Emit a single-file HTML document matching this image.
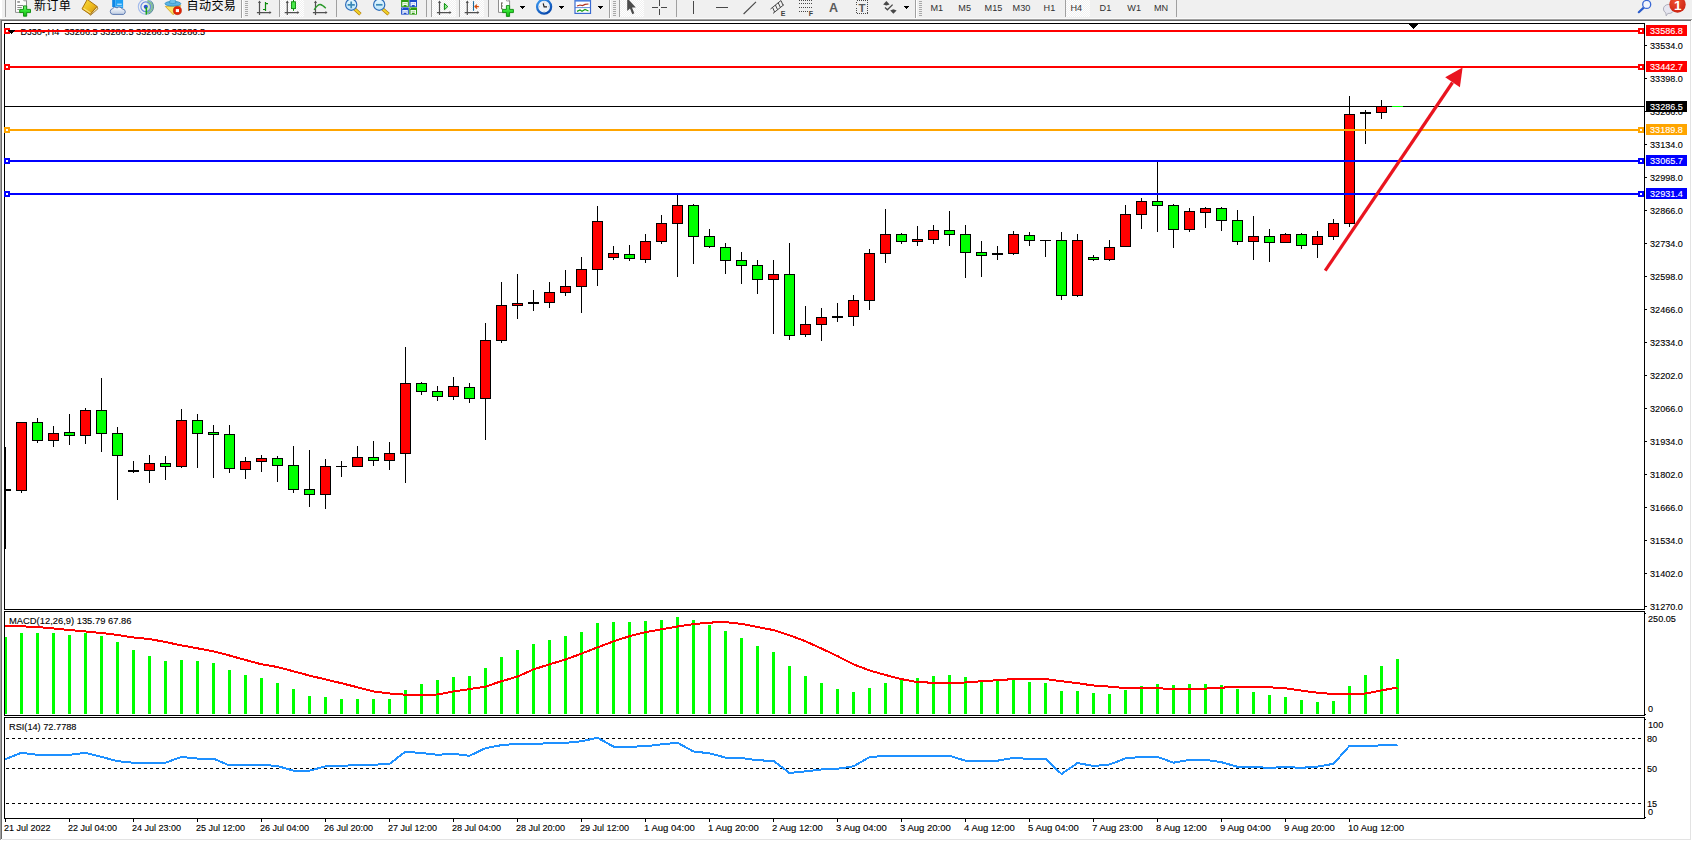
<!DOCTYPE html>
<html lang="zh-CN">
<head>
<meta charset="utf-8">
<title>DJ30-,H4</title>
<style>
html,body{margin:0;padding:0;background:#fff;}
body{width:1692px;height:841px;overflow:hidden;position:relative;font-family:"Liberation Sans", "Noto Sans CJK SC", sans-serif;}
svg{position:absolute;left:0;top:0;display:block;}
svg text{font-family:"Liberation Sans", "Noto Sans CJK SC", sans-serif;stroke-width:0.12px;}
svg text.k{stroke:#000;}
</style>
</head>
<body>
<svg width="1692" height="841" viewBox="0 0 1692 841">
<g shape-rendering="crispEdges">
<rect x="0" y="18" width="1692" height="823" fill="#fff"/>
<rect x="0" y="18" width="1692" height="1" fill="#fafafa"/>
<rect x="0" y="19" width="1692" height="1" fill="#a0a0a0"/>
<rect x="0" y="20" width="1691" height="1" fill="#696969"/>
<rect x="0" y="19" width="1" height="821" fill="#a0a0a0"/>
<rect x="1" y="20" width="1" height="819" fill="#696969"/>
<rect x="1690" y="21" width="1" height="819" fill="#e3e3e3"/>
<rect x="2" y="839" width="1689" height="1" fill="#e3e3e3"/>
<rect x="5" y="447" width="1" height="102" fill="#000"/>
<rect x="5" y="489" width="6" height="2" fill="#000"/>
<rect x="21" y="422" width="1" height="71" fill="#000"/>
<rect x="16" y="422" width="11" height="69" fill="#000"/>
<rect x="17" y="423" width="9" height="67" fill="#ff0000"/>
<rect x="37" y="418" width="1" height="25" fill="#000"/>
<rect x="32" y="422" width="11" height="19" fill="#000"/>
<rect x="33" y="423" width="9" height="17" fill="#00ff00"/>
<rect x="53" y="426" width="1" height="21" fill="#000"/>
<rect x="48" y="433" width="11" height="8" fill="#000"/>
<rect x="49" y="434" width="9" height="6" fill="#ff0000"/>
<rect x="69" y="414" width="1" height="31" fill="#000"/>
<rect x="64" y="432" width="11" height="4" fill="#000"/>
<rect x="65" y="433" width="9" height="2" fill="#00ff00"/>
<rect x="85" y="408" width="1" height="36" fill="#000"/>
<rect x="80" y="410" width="11" height="26" fill="#000"/>
<rect x="81" y="411" width="9" height="24" fill="#ff0000"/>
<rect x="101" y="378" width="1" height="74" fill="#000"/>
<rect x="96" y="410" width="11" height="24" fill="#000"/>
<rect x="97" y="411" width="9" height="22" fill="#00ff00"/>
<rect x="117" y="427" width="1" height="73" fill="#000"/>
<rect x="112" y="433" width="11" height="23" fill="#000"/>
<rect x="113" y="434" width="9" height="21" fill="#00ff00"/>
<rect x="133" y="461" width="1" height="12" fill="#000"/>
<rect x="128" y="470" width="11" height="2" fill="#000"/>
<rect x="149" y="455" width="1" height="28" fill="#000"/>
<rect x="144" y="463" width="11" height="8" fill="#000"/>
<rect x="145" y="464" width="9" height="6" fill="#ff0000"/>
<rect x="165" y="456" width="1" height="24" fill="#000"/>
<rect x="160" y="463" width="11" height="4" fill="#000"/>
<rect x="161" y="464" width="9" height="2" fill="#00ff00"/>
<rect x="181" y="409" width="1" height="59" fill="#000"/>
<rect x="176" y="420" width="11" height="47" fill="#000"/>
<rect x="177" y="421" width="9" height="45" fill="#ff0000"/>
<rect x="197" y="414" width="1" height="54" fill="#000"/>
<rect x="192" y="420" width="11" height="14" fill="#000"/>
<rect x="193" y="421" width="9" height="12" fill="#00ff00"/>
<rect x="213" y="425" width="1" height="53" fill="#000"/>
<rect x="208" y="432" width="11" height="3" fill="#000"/>
<rect x="209" y="433" width="9" height="1" fill="#00ff00"/>
<rect x="229" y="425" width="1" height="48" fill="#000"/>
<rect x="224" y="434" width="11" height="35" fill="#000"/>
<rect x="225" y="435" width="9" height="33" fill="#00ff00"/>
<rect x="245" y="457" width="1" height="22" fill="#000"/>
<rect x="240" y="461" width="11" height="9" fill="#000"/>
<rect x="241" y="462" width="9" height="7" fill="#ff0000"/>
<rect x="261" y="455" width="1" height="17" fill="#000"/>
<rect x="256" y="458" width="11" height="4" fill="#000"/>
<rect x="257" y="459" width="9" height="2" fill="#ff0000"/>
<rect x="277" y="456" width="1" height="26" fill="#000"/>
<rect x="272" y="458" width="11" height="8" fill="#000"/>
<rect x="273" y="459" width="9" height="6" fill="#00ff00"/>
<rect x="293" y="446" width="1" height="47" fill="#000"/>
<rect x="288" y="465" width="11" height="25" fill="#000"/>
<rect x="289" y="466" width="9" height="23" fill="#00ff00"/>
<rect x="309" y="450" width="1" height="57" fill="#000"/>
<rect x="304" y="489" width="11" height="6" fill="#000"/>
<rect x="305" y="490" width="9" height="4" fill="#00ff00"/>
<rect x="325" y="459" width="1" height="50" fill="#000"/>
<rect x="320" y="466" width="11" height="29" fill="#000"/>
<rect x="321" y="467" width="9" height="27" fill="#ff0000"/>
<rect x="341" y="461" width="1" height="16" fill="#000"/>
<rect x="336" y="466" width="11" height="1" fill="#000"/>
<rect x="357" y="446" width="1" height="21" fill="#000"/>
<rect x="352" y="457" width="11" height="10" fill="#000"/>
<rect x="353" y="458" width="9" height="8" fill="#ff0000"/>
<rect x="373" y="441" width="1" height="25" fill="#000"/>
<rect x="368" y="457" width="11" height="4" fill="#000"/>
<rect x="369" y="458" width="9" height="2" fill="#00ff00"/>
<rect x="389" y="442" width="1" height="28" fill="#000"/>
<rect x="384" y="453" width="11" height="8" fill="#000"/>
<rect x="385" y="454" width="9" height="6" fill="#ff0000"/>
<rect x="405" y="347" width="1" height="136" fill="#000"/>
<rect x="400" y="383" width="11" height="71" fill="#000"/>
<rect x="401" y="384" width="9" height="69" fill="#ff0000"/>
<rect x="421" y="382" width="1" height="13" fill="#000"/>
<rect x="416" y="383" width="11" height="9" fill="#000"/>
<rect x="417" y="384" width="9" height="7" fill="#00ff00"/>
<rect x="437" y="386" width="1" height="15" fill="#000"/>
<rect x="432" y="391" width="11" height="6" fill="#000"/>
<rect x="433" y="392" width="9" height="4" fill="#00ff00"/>
<rect x="453" y="377" width="1" height="23" fill="#000"/>
<rect x="448" y="386" width="11" height="11" fill="#000"/>
<rect x="449" y="387" width="9" height="9" fill="#ff0000"/>
<rect x="469" y="383" width="1" height="20" fill="#000"/>
<rect x="464" y="387" width="11" height="12" fill="#000"/>
<rect x="465" y="388" width="9" height="10" fill="#00ff00"/>
<rect x="485" y="323" width="1" height="117" fill="#000"/>
<rect x="480" y="340" width="11" height="59" fill="#000"/>
<rect x="481" y="341" width="9" height="57" fill="#ff0000"/>
<rect x="501" y="282" width="1" height="61" fill="#000"/>
<rect x="496" y="305" width="11" height="36" fill="#000"/>
<rect x="497" y="306" width="9" height="34" fill="#ff0000"/>
<rect x="517" y="274" width="1" height="45" fill="#000"/>
<rect x="512" y="303" width="11" height="3" fill="#000"/>
<rect x="513" y="304" width="9" height="1" fill="#ff0000"/>
<rect x="533" y="290" width="1" height="21" fill="#000"/>
<rect x="528" y="302" width="11" height="2" fill="#000"/>
<rect x="549" y="282" width="1" height="26" fill="#000"/>
<rect x="544" y="292" width="11" height="11" fill="#000"/>
<rect x="545" y="293" width="9" height="9" fill="#ff0000"/>
<rect x="565" y="270" width="1" height="26" fill="#000"/>
<rect x="560" y="286" width="11" height="7" fill="#000"/>
<rect x="561" y="287" width="9" height="5" fill="#ff0000"/>
<rect x="581" y="257" width="1" height="56" fill="#000"/>
<rect x="576" y="269" width="11" height="18" fill="#000"/>
<rect x="577" y="270" width="9" height="16" fill="#ff0000"/>
<rect x="597" y="206" width="1" height="80" fill="#000"/>
<rect x="592" y="221" width="11" height="49" fill="#000"/>
<rect x="593" y="222" width="9" height="47" fill="#ff0000"/>
<rect x="613" y="246" width="1" height="14" fill="#000"/>
<rect x="608" y="253" width="11" height="5" fill="#000"/>
<rect x="609" y="254" width="9" height="3" fill="#ff0000"/>
<rect x="629" y="245" width="1" height="16" fill="#000"/>
<rect x="624" y="254" width="11" height="5" fill="#000"/>
<rect x="625" y="255" width="9" height="3" fill="#00ff00"/>
<rect x="645" y="234" width="1" height="29" fill="#000"/>
<rect x="640" y="241" width="11" height="19" fill="#000"/>
<rect x="641" y="242" width="9" height="17" fill="#ff0000"/>
<rect x="661" y="215" width="1" height="29" fill="#000"/>
<rect x="656" y="223" width="11" height="19" fill="#000"/>
<rect x="657" y="224" width="9" height="17" fill="#ff0000"/>
<rect x="677" y="195" width="1" height="82" fill="#000"/>
<rect x="672" y="205" width="11" height="19" fill="#000"/>
<rect x="673" y="206" width="9" height="17" fill="#ff0000"/>
<rect x="693" y="204" width="1" height="60" fill="#000"/>
<rect x="688" y="205" width="11" height="32" fill="#000"/>
<rect x="689" y="206" width="9" height="30" fill="#00ff00"/>
<rect x="709" y="229" width="1" height="19" fill="#000"/>
<rect x="704" y="236" width="11" height="11" fill="#000"/>
<rect x="705" y="237" width="9" height="9" fill="#00ff00"/>
<rect x="725" y="243" width="1" height="31" fill="#000"/>
<rect x="720" y="247" width="11" height="14" fill="#000"/>
<rect x="721" y="248" width="9" height="12" fill="#00ff00"/>
<rect x="741" y="252" width="1" height="32" fill="#000"/>
<rect x="736" y="260" width="11" height="6" fill="#000"/>
<rect x="737" y="261" width="9" height="4" fill="#00ff00"/>
<rect x="757" y="260" width="1" height="34" fill="#000"/>
<rect x="752" y="265" width="11" height="15" fill="#000"/>
<rect x="753" y="266" width="9" height="13" fill="#00ff00"/>
<rect x="773" y="260" width="1" height="74" fill="#000"/>
<rect x="768" y="274" width="11" height="6" fill="#000"/>
<rect x="769" y="275" width="9" height="4" fill="#ff0000"/>
<rect x="789" y="243" width="1" height="97" fill="#000"/>
<rect x="784" y="274" width="11" height="62" fill="#000"/>
<rect x="785" y="275" width="9" height="60" fill="#00ff00"/>
<rect x="805" y="306" width="1" height="31" fill="#000"/>
<rect x="800" y="324" width="11" height="11" fill="#000"/>
<rect x="801" y="325" width="9" height="9" fill="#ff0000"/>
<rect x="821" y="308" width="1" height="33" fill="#000"/>
<rect x="816" y="317" width="11" height="8" fill="#000"/>
<rect x="817" y="318" width="9" height="6" fill="#ff0000"/>
<rect x="837" y="303" width="1" height="19" fill="#000"/>
<rect x="832" y="316" width="11" height="2" fill="#000"/>
<rect x="853" y="295" width="1" height="31" fill="#000"/>
<rect x="848" y="300" width="11" height="17" fill="#000"/>
<rect x="849" y="301" width="9" height="15" fill="#ff0000"/>
<rect x="869" y="249" width="1" height="61" fill="#000"/>
<rect x="864" y="253" width="11" height="48" fill="#000"/>
<rect x="865" y="254" width="9" height="46" fill="#ff0000"/>
<rect x="885" y="209" width="1" height="54" fill="#000"/>
<rect x="880" y="234" width="11" height="20" fill="#000"/>
<rect x="881" y="235" width="9" height="18" fill="#ff0000"/>
<rect x="901" y="233" width="1" height="11" fill="#000"/>
<rect x="896" y="234" width="11" height="8" fill="#000"/>
<rect x="897" y="235" width="9" height="6" fill="#00ff00"/>
<rect x="917" y="226" width="1" height="20" fill="#000"/>
<rect x="912" y="239" width="11" height="3" fill="#000"/>
<rect x="913" y="240" width="9" height="1" fill="#ff0000"/>
<rect x="933" y="225" width="1" height="19" fill="#000"/>
<rect x="928" y="230" width="11" height="10" fill="#000"/>
<rect x="929" y="231" width="9" height="8" fill="#ff0000"/>
<rect x="949" y="211" width="1" height="35" fill="#000"/>
<rect x="944" y="230" width="11" height="5" fill="#000"/>
<rect x="945" y="231" width="9" height="3" fill="#00ff00"/>
<rect x="965" y="225" width="1" height="53" fill="#000"/>
<rect x="960" y="234" width="11" height="19" fill="#000"/>
<rect x="961" y="235" width="9" height="17" fill="#00ff00"/>
<rect x="981" y="241" width="1" height="36" fill="#000"/>
<rect x="976" y="252" width="11" height="4" fill="#000"/>
<rect x="977" y="253" width="9" height="2" fill="#00ff00"/>
<rect x="997" y="246" width="1" height="14" fill="#000"/>
<rect x="992" y="253" width="11" height="2" fill="#000"/>
<rect x="1013" y="231" width="1" height="24" fill="#000"/>
<rect x="1008" y="234" width="11" height="20" fill="#000"/>
<rect x="1009" y="235" width="9" height="18" fill="#ff0000"/>
<rect x="1029" y="232" width="1" height="14" fill="#000"/>
<rect x="1024" y="235" width="11" height="6" fill="#000"/>
<rect x="1025" y="236" width="9" height="4" fill="#00ff00"/>
<rect x="1045" y="240" width="1" height="17" fill="#000"/>
<rect x="1040" y="240" width="11" height="1" fill="#000"/>
<rect x="1061" y="232" width="1" height="68" fill="#000"/>
<rect x="1056" y="240" width="11" height="56" fill="#000"/>
<rect x="1057" y="241" width="9" height="54" fill="#00ff00"/>
<rect x="1077" y="234" width="1" height="63" fill="#000"/>
<rect x="1072" y="240" width="11" height="56" fill="#000"/>
<rect x="1073" y="241" width="9" height="54" fill="#ff0000"/>
<rect x="1093" y="255" width="1" height="6" fill="#000"/>
<rect x="1088" y="257" width="11" height="3" fill="#000"/>
<rect x="1089" y="258" width="9" height="1" fill="#00ff00"/>
<rect x="1109" y="240" width="1" height="21" fill="#000"/>
<rect x="1104" y="247" width="11" height="13" fill="#000"/>
<rect x="1105" y="248" width="9" height="11" fill="#ff0000"/>
<rect x="1125" y="205" width="1" height="42" fill="#000"/>
<rect x="1120" y="214" width="11" height="33" fill="#000"/>
<rect x="1121" y="215" width="9" height="31" fill="#ff0000"/>
<rect x="1141" y="198" width="1" height="31" fill="#000"/>
<rect x="1136" y="201" width="11" height="14" fill="#000"/>
<rect x="1137" y="202" width="9" height="12" fill="#ff0000"/>
<rect x="1157" y="161" width="1" height="71" fill="#000"/>
<rect x="1152" y="201" width="11" height="5" fill="#000"/>
<rect x="1153" y="202" width="9" height="3" fill="#00ff00"/>
<rect x="1173" y="204" width="1" height="44" fill="#000"/>
<rect x="1168" y="205" width="11" height="25" fill="#000"/>
<rect x="1169" y="206" width="9" height="23" fill="#00ff00"/>
<rect x="1189" y="208" width="1" height="24" fill="#000"/>
<rect x="1184" y="211" width="11" height="19" fill="#000"/>
<rect x="1185" y="212" width="9" height="17" fill="#ff0000"/>
<rect x="1205" y="207" width="1" height="21" fill="#000"/>
<rect x="1200" y="208" width="11" height="5" fill="#000"/>
<rect x="1201" y="209" width="9" height="3" fill="#ff0000"/>
<rect x="1221" y="207" width="1" height="24" fill="#000"/>
<rect x="1216" y="208" width="11" height="13" fill="#000"/>
<rect x="1217" y="209" width="9" height="11" fill="#00ff00"/>
<rect x="1237" y="210" width="1" height="35" fill="#000"/>
<rect x="1232" y="220" width="11" height="22" fill="#000"/>
<rect x="1233" y="221" width="9" height="20" fill="#00ff00"/>
<rect x="1253" y="216" width="1" height="44" fill="#000"/>
<rect x="1248" y="236" width="11" height="6" fill="#000"/>
<rect x="1249" y="237" width="9" height="4" fill="#ff0000"/>
<rect x="1269" y="229" width="1" height="33" fill="#000"/>
<rect x="1264" y="236" width="11" height="7" fill="#000"/>
<rect x="1265" y="237" width="9" height="5" fill="#00ff00"/>
<rect x="1285" y="233" width="1" height="10" fill="#000"/>
<rect x="1280" y="234" width="11" height="9" fill="#000"/>
<rect x="1281" y="235" width="9" height="7" fill="#ff0000"/>
<rect x="1301" y="233" width="1" height="16" fill="#000"/>
<rect x="1296" y="234" width="11" height="12" fill="#000"/>
<rect x="1297" y="235" width="9" height="10" fill="#00ff00"/>
<rect x="1317" y="231" width="1" height="27" fill="#000"/>
<rect x="1312" y="236" width="11" height="9" fill="#000"/>
<rect x="1313" y="237" width="9" height="7" fill="#ff0000"/>
<rect x="1333" y="219" width="1" height="21" fill="#000"/>
<rect x="1328" y="223" width="11" height="14" fill="#000"/>
<rect x="1329" y="224" width="9" height="12" fill="#ff0000"/>
<rect x="1349" y="96" width="1" height="131" fill="#000"/>
<rect x="1344" y="114" width="11" height="110" fill="#000"/>
<rect x="1345" y="115" width="9" height="108" fill="#ff0000"/>
<rect x="1365" y="110" width="1" height="34" fill="#000"/>
<rect x="1360" y="112" width="11" height="2" fill="#000"/>
<rect x="1381" y="100" width="1" height="19" fill="#000"/>
<rect x="1376" y="106" width="11" height="7" fill="#000"/>
<rect x="1377" y="107" width="9" height="5" fill="#ff0000"/>
<rect x="1392" y="106" width="11" height="1" fill="#00ff00"/>
<rect x="5" y="106" width="1639" height="1" fill="#000"/>
<rect x="1392" y="106" width="11" height="1" fill="#00ff00"/>
<rect x="5" y="30" width="1639" height="2" fill="#ff0000"/>
<rect x="5" y="66" width="1639" height="2" fill="#ff0000"/>
<rect x="5" y="129" width="1639" height="2" fill="#ffa500"/>
<rect x="5" y="160" width="1639" height="2" fill="#0000ff"/>
<rect x="5" y="193" width="1639" height="2" fill="#0000ff"/>
<rect x="5" y="637" width="2" height="77" fill="#00ff00"/>
<rect x="20" y="633" width="3" height="81" fill="#00ff00"/>
<rect x="36" y="633" width="3" height="81" fill="#00ff00"/>
<rect x="52" y="633" width="3" height="81" fill="#00ff00"/>
<rect x="68" y="635" width="3" height="79" fill="#00ff00"/>
<rect x="84" y="633" width="3" height="81" fill="#00ff00"/>
<rect x="100" y="636" width="3" height="78" fill="#00ff00"/>
<rect x="116" y="642" width="3" height="72" fill="#00ff00"/>
<rect x="132" y="650" width="3" height="64" fill="#00ff00"/>
<rect x="148" y="656" width="3" height="58" fill="#00ff00"/>
<rect x="164" y="661" width="3" height="53" fill="#00ff00"/>
<rect x="180" y="660" width="3" height="54" fill="#00ff00"/>
<rect x="196" y="661" width="3" height="53" fill="#00ff00"/>
<rect x="212" y="663" width="3" height="51" fill="#00ff00"/>
<rect x="228" y="670" width="3" height="44" fill="#00ff00"/>
<rect x="244" y="675" width="3" height="39" fill="#00ff00"/>
<rect x="260" y="678" width="3" height="36" fill="#00ff00"/>
<rect x="276" y="683" width="3" height="31" fill="#00ff00"/>
<rect x="292" y="689" width="3" height="25" fill="#00ff00"/>
<rect x="308" y="696" width="3" height="18" fill="#00ff00"/>
<rect x="324" y="697" width="3" height="17" fill="#00ff00"/>
<rect x="340" y="699" width="3" height="15" fill="#00ff00"/>
<rect x="356" y="699" width="3" height="15" fill="#00ff00"/>
<rect x="372" y="699" width="3" height="15" fill="#00ff00"/>
<rect x="388" y="699" width="3" height="15" fill="#00ff00"/>
<rect x="404" y="690" width="3" height="24" fill="#00ff00"/>
<rect x="420" y="684" width="3" height="30" fill="#00ff00"/>
<rect x="436" y="680" width="3" height="34" fill="#00ff00"/>
<rect x="452" y="677" width="3" height="37" fill="#00ff00"/>
<rect x="468" y="676" width="3" height="38" fill="#00ff00"/>
<rect x="484" y="668" width="3" height="46" fill="#00ff00"/>
<rect x="500" y="657" width="3" height="57" fill="#00ff00"/>
<rect x="516" y="650" width="3" height="64" fill="#00ff00"/>
<rect x="532" y="644" width="3" height="70" fill="#00ff00"/>
<rect x="548" y="640" width="3" height="74" fill="#00ff00"/>
<rect x="564" y="636" width="3" height="78" fill="#00ff00"/>
<rect x="580" y="632" width="3" height="82" fill="#00ff00"/>
<rect x="596" y="623" width="3" height="91" fill="#00ff00"/>
<rect x="612" y="622" width="3" height="92" fill="#00ff00"/>
<rect x="628" y="622" width="3" height="92" fill="#00ff00"/>
<rect x="644" y="621" width="3" height="93" fill="#00ff00"/>
<rect x="660" y="620" width="3" height="94" fill="#00ff00"/>
<rect x="676" y="617" width="3" height="97" fill="#00ff00"/>
<rect x="692" y="620" width="3" height="94" fill="#00ff00"/>
<rect x="708" y="625" width="3" height="89" fill="#00ff00"/>
<rect x="724" y="631" width="3" height="83" fill="#00ff00"/>
<rect x="740" y="638" width="3" height="76" fill="#00ff00"/>
<rect x="756" y="646" width="3" height="68" fill="#00ff00"/>
<rect x="772" y="652" width="3" height="62" fill="#00ff00"/>
<rect x="788" y="666" width="3" height="48" fill="#00ff00"/>
<rect x="804" y="676" width="3" height="38" fill="#00ff00"/>
<rect x="820" y="683" width="3" height="31" fill="#00ff00"/>
<rect x="836" y="689" width="3" height="25" fill="#00ff00"/>
<rect x="852" y="692" width="3" height="22" fill="#00ff00"/>
<rect x="868" y="688" width="3" height="26" fill="#00ff00"/>
<rect x="884" y="683" width="3" height="31" fill="#00ff00"/>
<rect x="900" y="680" width="3" height="34" fill="#00ff00"/>
<rect x="916" y="678" width="3" height="36" fill="#00ff00"/>
<rect x="932" y="676" width="3" height="38" fill="#00ff00"/>
<rect x="948" y="675" width="3" height="39" fill="#00ff00"/>
<rect x="964" y="677" width="3" height="37" fill="#00ff00"/>
<rect x="980" y="680" width="3" height="34" fill="#00ff00"/>
<rect x="996" y="680" width="3" height="34" fill="#00ff00"/>
<rect x="1012" y="680" width="3" height="34" fill="#00ff00"/>
<rect x="1028" y="682" width="3" height="32" fill="#00ff00"/>
<rect x="1044" y="683" width="3" height="31" fill="#00ff00"/>
<rect x="1060" y="691" width="3" height="23" fill="#00ff00"/>
<rect x="1076" y="691" width="3" height="23" fill="#00ff00"/>
<rect x="1092" y="693" width="3" height="21" fill="#00ff00"/>
<rect x="1108" y="694" width="3" height="20" fill="#00ff00"/>
<rect x="1124" y="690" width="3" height="24" fill="#00ff00"/>
<rect x="1140" y="686" width="3" height="28" fill="#00ff00"/>
<rect x="1156" y="684" width="3" height="30" fill="#00ff00"/>
<rect x="1172" y="685" width="3" height="29" fill="#00ff00"/>
<rect x="1188" y="684" width="3" height="30" fill="#00ff00"/>
<rect x="1204" y="684" width="3" height="30" fill="#00ff00"/>
<rect x="1220" y="685" width="3" height="29" fill="#00ff00"/>
<rect x="1236" y="689" width="3" height="25" fill="#00ff00"/>
<rect x="1252" y="692" width="3" height="22" fill="#00ff00"/>
<rect x="1268" y="695" width="3" height="19" fill="#00ff00"/>
<rect x="1284" y="697" width="3" height="17" fill="#00ff00"/>
<rect x="1300" y="700" width="3" height="14" fill="#00ff00"/>
<rect x="1316" y="702" width="3" height="12" fill="#00ff00"/>
<rect x="1332" y="701" width="3" height="13" fill="#00ff00"/>
<rect x="1348" y="686" width="3" height="28" fill="#00ff00"/>
<rect x="1364" y="675" width="3" height="39" fill="#00ff00"/>
<rect x="1380" y="666" width="3" height="48" fill="#00ff00"/>
<rect x="1396" y="659" width="3" height="55" fill="#00ff00"/>
<line x1="6" y1="738.5" x2="1644" y2="738.5" stroke="#000" stroke-width="1" stroke-dasharray="3 3"/>
<line x1="6" y1="768.5" x2="1644" y2="768.5" stroke="#000" stroke-width="1" stroke-dasharray="3 3"/>
<line x1="6" y1="803.5" x2="1644" y2="803.5" stroke="#000" stroke-width="1" stroke-dasharray="3 3"/>
<rect x="4" y="23" width="1" height="796" fill="#000"/>
<rect x="1644" y="23" width="1" height="796" fill="#000"/>
<rect x="4" y="23" width="1641" height="1" fill="#000"/>
<rect x="4" y="609" width="1641" height="1" fill="#000"/>
<rect x="4" y="611" width="1641" height="1" fill="#000"/>
<rect x="4" y="715" width="1641" height="1" fill="#000"/>
<rect x="4" y="717" width="1641" height="1" fill="#000"/>
<rect x="4" y="818" width="1641" height="1" fill="#000"/>
<rect x="4" y="610" width="1641" height="1" fill="#fff"/>
<rect x="4" y="716" width="1641" height="1" fill="#fff"/>
<rect x="1409" y="24" width="9" height="1" fill="#000"/>
<rect x="1410" y="25" width="7" height="1" fill="#000"/>
<rect x="1411" y="26" width="5" height="1" fill="#000"/>
<rect x="1412" y="27" width="3" height="1" fill="#000"/>
<rect x="1413" y="28" width="1" height="1" fill="#000"/>
<rect x="4" y="28" width="6" height="6" fill="#ff0000"/>
<rect x="6" y="30" width="2" height="2" fill="#fff"/>
<rect x="1638" y="28" width="6" height="6" fill="#ff0000"/>
<rect x="1640" y="30" width="2" height="2" fill="#fff"/>
<rect x="4" y="64" width="6" height="6" fill="#ff0000"/>
<rect x="6" y="66" width="2" height="2" fill="#fff"/>
<rect x="1638" y="64" width="6" height="6" fill="#ff0000"/>
<rect x="1640" y="66" width="2" height="2" fill="#fff"/>
<rect x="4" y="127" width="6" height="6" fill="#ffa500"/>
<rect x="6" y="129" width="2" height="2" fill="#fff"/>
<rect x="1638" y="127" width="6" height="6" fill="#ffa500"/>
<rect x="1640" y="129" width="2" height="2" fill="#fff"/>
<rect x="4" y="158" width="6" height="6" fill="#0000ff"/>
<rect x="6" y="160" width="2" height="2" fill="#fff"/>
<rect x="1638" y="158" width="6" height="6" fill="#0000ff"/>
<rect x="1640" y="160" width="2" height="2" fill="#fff"/>
<rect x="4" y="191" width="6" height="6" fill="#0000ff"/>
<rect x="6" y="193" width="2" height="2" fill="#fff"/>
<rect x="1638" y="191" width="6" height="6" fill="#0000ff"/>
<rect x="1640" y="193" width="2" height="2" fill="#fff"/>
<rect x="1645" y="45" width="2" height="1" fill="#000"/>
<rect x="1645" y="78" width="2" height="1" fill="#000"/>
<rect x="1645" y="111" width="2" height="1" fill="#000"/>
<rect x="1645" y="144" width="2" height="1" fill="#000"/>
<rect x="1645" y="177" width="2" height="1" fill="#000"/>
<rect x="1645" y="210" width="2" height="1" fill="#000"/>
<rect x="1645" y="243" width="2" height="1" fill="#000"/>
<rect x="1645" y="276" width="2" height="1" fill="#000"/>
<rect x="1645" y="309" width="2" height="1" fill="#000"/>
<rect x="1645" y="342" width="2" height="1" fill="#000"/>
<rect x="1645" y="375" width="2" height="1" fill="#000"/>
<rect x="1645" y="408" width="2" height="1" fill="#000"/>
<rect x="1645" y="441" width="2" height="1" fill="#000"/>
<rect x="1645" y="474" width="2" height="1" fill="#000"/>
<rect x="1645" y="507" width="2" height="1" fill="#000"/>
<rect x="1645" y="540" width="2" height="1" fill="#000"/>
<rect x="1645" y="573" width="2" height="1" fill="#000"/>
<rect x="1645" y="606" width="2" height="1" fill="#000"/>
<rect x="5" y="819" width="1" height="3" fill="#000"/>
<rect x="69" y="819" width="1" height="3" fill="#000"/>
<rect x="133" y="819" width="1" height="3" fill="#000"/>
<rect x="197" y="819" width="1" height="3" fill="#000"/>
<rect x="261" y="819" width="1" height="3" fill="#000"/>
<rect x="325" y="819" width="1" height="3" fill="#000"/>
<rect x="389" y="819" width="1" height="3" fill="#000"/>
<rect x="453" y="819" width="1" height="3" fill="#000"/>
<rect x="517" y="819" width="1" height="3" fill="#000"/>
<rect x="581" y="819" width="1" height="3" fill="#000"/>
<rect x="645" y="819" width="1" height="3" fill="#000"/>
<rect x="709" y="819" width="1" height="3" fill="#000"/>
<rect x="773" y="819" width="1" height="3" fill="#000"/>
<rect x="837" y="819" width="1" height="3" fill="#000"/>
<rect x="901" y="819" width="1" height="3" fill="#000"/>
<rect x="965" y="819" width="1" height="3" fill="#000"/>
<rect x="1029" y="819" width="1" height="3" fill="#000"/>
<rect x="1093" y="819" width="1" height="3" fill="#000"/>
<rect x="1157" y="819" width="1" height="3" fill="#000"/>
<rect x="1221" y="819" width="1" height="3" fill="#000"/>
<rect x="1285" y="819" width="1" height="3" fill="#000"/>
<rect x="1349" y="819" width="1" height="3" fill="#000"/>
<rect x="1645" y="613" width="1" height="1" fill="#000"/>
<rect x="1645" y="714" width="1" height="1" fill="#000"/>
<rect x="1645" y="719" width="1" height="1" fill="#000"/>
<rect x="1645" y="817" width="1" height="1" fill="#000"/>
</g>
<g>
<line x1="1325.2" y1="270.7" x2="1452.5" y2="82.5" stroke="#e9141f" stroke-width="3.2" stroke-linecap="butt"/>
<polygon points="1462.6,67.6 1445.2,77.2 1459.9,87.3" fill="#e9141f"/>
<polyline points="5,626 21.5,626.3 37.5,627 53.5,628.5 69.5,630 85.5,631.5 101.5,633 117.5,635 133.5,637.5 149.5,639 165.5,642 181.5,645.4 197.5,648.3 213.5,651.3 229.5,655.5 245.5,660 261.5,664.3 277.5,667 293.5,671.3 309.5,675.6 325.5,679.4 341.5,683.2 357.5,687.3 373.5,691.4 389.5,693.5 405.5,694.7 421.5,694.7 437.5,694.5 453.5,691.4 469.5,689.1 485.5,686.6 501.5,681.2 517.5,676.6 533.5,669.4 549.5,664.3 565.5,659.5 581.5,653.6 597.5,647.4 613.5,641.3 629.5,636.2 645.5,632.1 661.5,629.3 677.5,626.5 693.5,624.2 709.5,622.6 725.5,622.1 741.5,623.9 757.5,627 773.5,630.1 789.5,635.2 805.5,641.3 821.5,648.5 837.5,656.1 853.5,664.3 869.5,670.4 885.5,675 901.5,679.1 917.5,682.2 933.5,682.7 949.5,682.7 965.5,682.5 981.5,681.2 997.5,680.2 1013.5,679.1 1029.5,678.9 1045.5,679.1 1061.5,681.2 1077.5,683.2 1093.5,685.5 1109.5,686.6 1125.5,688.1 1141.5,688.1 1157.5,688.3 1173.5,688.9 1189.5,688.9 1205.5,688.6 1221.5,687.6 1237.5,687.1 1253.5,687.1 1269.5,687.3 1285.5,688.3 1301.5,690.6 1317.5,692.7 1333.5,694 1349.5,694 1365.5,693.5 1381.5,690.4 1397.5,687.6" fill="none" stroke="#ff0000" stroke-width="2" stroke-linejoin="round" shape-rendering="crispEdges"/>
<polyline points="5,759.2 21.5,752.8 37.5,754.8 53.5,754.8 69.5,754.8 85.5,752.8 101.5,756.9 117.5,761.2 133.5,762.7 149.5,762.7 165.5,762.7 181.5,756.9 197.5,758.6 213.5,758.6 229.5,765.5 245.5,765 261.5,764.8 277.5,766 293.5,770.7 309.5,770.7 325.5,766.3 341.5,766 357.5,764.8 373.5,764.8 389.5,763.8 405.5,751.7 421.5,753 437.5,754.8 453.5,753.8 469.5,755.8 485.5,748.2 501.5,745.1 517.5,743.8 533.5,743.8 549.5,743.3 565.5,742.8 581.5,741.3 597.5,737.7 613.5,746.6 629.5,746.6 645.5,746.4 661.5,744.3 677.5,742.8 693.5,751.5 709.5,753.3 725.5,757.6 741.5,757.9 757.5,760.4 773.5,760.7 789.5,773 805.5,771.4 821.5,769.4 837.5,768.8 853.5,766.3 869.5,757.1 885.5,755.8 901.5,755.8 917.5,755.8 933.5,755.8 949.5,755.8 965.5,760.7 981.5,760.7 997.5,760.7 1013.5,757.9 1029.5,758.9 1045.5,758.9 1061.5,774 1077.5,763 1093.5,766 1109.5,764.5 1125.5,758.4 1141.5,756.9 1157.5,756.9 1173.5,762.7 1189.5,759.9 1205.5,759.9 1221.5,762.2 1237.5,766.8 1253.5,767.1 1269.5,767.8 1285.5,767.1 1301.5,767.8 1317.5,766.6 1333.5,763.8 1349.5,745.9 1365.5,745.9 1381.5,745.4 1397.5,744.8" fill="none" stroke="#1e90ff" stroke-width="2" stroke-linejoin="round" shape-rendering="crispEdges"/>
</g>
<g>
<text class="k" transform="translate(1650,49) scale(0.93,1)" font-size="9.8" fill="#000" >33534.0</text>
<text class="k" transform="translate(1650,82) scale(0.93,1)" font-size="9.8" fill="#000" >33398.0</text>
<text class="k" transform="translate(1650,115) scale(0.93,1)" font-size="9.8" fill="#000" >33266.0</text>
<text class="k" transform="translate(1650,148) scale(0.93,1)" font-size="9.8" fill="#000" >33134.0</text>
<text class="k" transform="translate(1650,181) scale(0.93,1)" font-size="9.8" fill="#000" >32998.0</text>
<text class="k" transform="translate(1650,214) scale(0.93,1)" font-size="9.8" fill="#000" >32866.0</text>
<text class="k" transform="translate(1650,247) scale(0.93,1)" font-size="9.8" fill="#000" >32734.0</text>
<text class="k" transform="translate(1650,280) scale(0.93,1)" font-size="9.8" fill="#000" >32598.0</text>
<text class="k" transform="translate(1650,313) scale(0.93,1)" font-size="9.8" fill="#000" >32466.0</text>
<text class="k" transform="translate(1650,346) scale(0.93,1)" font-size="9.8" fill="#000" >32334.0</text>
<text class="k" transform="translate(1650,379) scale(0.93,1)" font-size="9.8" fill="#000" >32202.0</text>
<text class="k" transform="translate(1650,412) scale(0.93,1)" font-size="9.8" fill="#000" >32066.0</text>
<text class="k" transform="translate(1650,445) scale(0.93,1)" font-size="9.8" fill="#000" >31934.0</text>
<text class="k" transform="translate(1650,478) scale(0.93,1)" font-size="9.8" fill="#000" >31802.0</text>
<text class="k" transform="translate(1650,511) scale(0.93,1)" font-size="9.8" fill="#000" >31666.0</text>
<text class="k" transform="translate(1650,544) scale(0.93,1)" font-size="9.8" fill="#000" >31534.0</text>
<text class="k" transform="translate(1650,577) scale(0.93,1)" font-size="9.8" fill="#000" >31402.0</text>
<text class="k" transform="translate(1650,610) scale(0.93,1)" font-size="9.8" fill="#000" >31270.0</text>
<text class="k" transform="translate(4,831) scale(0.922,1)" font-size="9.8" fill="#000" >21 Jul 2022</text>
<text class="k" transform="translate(68,831) scale(0.922,1)" font-size="9.8" fill="#000" >22 Jul 04:00</text>
<text class="k" transform="translate(132,831) scale(0.922,1)" font-size="9.8" fill="#000" >24 Jul 23:00</text>
<text class="k" transform="translate(196,831) scale(0.922,1)" font-size="9.8" fill="#000" >25 Jul 12:00</text>
<text class="k" transform="translate(260,831) scale(0.922,1)" font-size="9.8" fill="#000" >26 Jul 04:00</text>
<text class="k" transform="translate(324,831) scale(0.922,1)" font-size="9.8" fill="#000" >26 Jul 20:00</text>
<text class="k" transform="translate(388,831) scale(0.922,1)" font-size="9.8" fill="#000" >27 Jul 12:00</text>
<text class="k" transform="translate(452,831) scale(0.922,1)" font-size="9.8" fill="#000" >28 Jul 04:00</text>
<text class="k" transform="translate(516,831) scale(0.922,1)" font-size="9.8" fill="#000" >28 Jul 20:00</text>
<text class="k" transform="translate(580,831) scale(0.922,1)" font-size="9.8" fill="#000" >29 Jul 12:00</text>
<text class="k" transform="translate(644,831) scale(0.972,1)" font-size="9.8" fill="#000" >1 Aug 04:00</text>
<text class="k" transform="translate(708,831) scale(0.972,1)" font-size="9.8" fill="#000" >1 Aug 20:00</text>
<text class="k" transform="translate(772,831) scale(0.972,1)" font-size="9.8" fill="#000" >2 Aug 12:00</text>
<text class="k" transform="translate(836,831) scale(0.972,1)" font-size="9.8" fill="#000" >3 Aug 04:00</text>
<text class="k" transform="translate(900,831) scale(0.972,1)" font-size="9.8" fill="#000" >3 Aug 20:00</text>
<text class="k" transform="translate(964,831) scale(0.972,1)" font-size="9.8" fill="#000" >4 Aug 12:00</text>
<text class="k" transform="translate(1028,831) scale(0.972,1)" font-size="9.8" fill="#000" >5 Aug 04:00</text>
<text class="k" transform="translate(1092,831) scale(0.972,1)" font-size="9.8" fill="#000" >7 Aug 23:00</text>
<text class="k" transform="translate(1156,831) scale(0.972,1)" font-size="9.8" fill="#000" >8 Aug 12:00</text>
<text class="k" transform="translate(1220,831) scale(0.972,1)" font-size="9.8" fill="#000" >9 Aug 04:00</text>
<text class="k" transform="translate(1284,831) scale(0.972,1)" font-size="9.8" fill="#000" >9 Aug 20:00</text>
<text class="k" transform="translate(1348,831) scale(0.972,1)" font-size="9.8" fill="#000" >10 Aug 12:00</text>
<text class="k" transform="translate(1648,622) scale(0.93,1)" font-size="9.8" fill="#000" >250.05</text>
<text class="k" transform="translate(1648,712) scale(0.93,1)" font-size="9.8" fill="#000" >0</text>
<text class="k" transform="translate(1648,728) scale(0.93,1)" font-size="9.8" fill="#000" >100</text>
<text class="k" transform="translate(1647,742) scale(0.93,1)" font-size="9.8" fill="#000" >80</text>
<text class="k" transform="translate(1647,772) scale(0.93,1)" font-size="9.8" fill="#000" >50</text>
<text class="k" transform="translate(1647,807) scale(0.93,1)" font-size="9.8" fill="#000" >15</text>
<text class="k" transform="translate(1648,815) scale(0.93,1)" font-size="9.8" fill="#000" >0</text>
<text class="k" transform="translate(9,624) scale(0.958,1)" font-size="9.8" fill="#000" >MACD(12,26,9) 135.79 67.86</text>
<text class="k" transform="translate(9,730) scale(0.939,1)" font-size="9.8" fill="#000" >RSI(14) 72.7788</text>
<text class="k" transform="translate(20.5,35) scale(0.939,1)" font-size="9.8" fill="#000" xml:space="preserve">DJ30-,H4  33286.5 33286.5 33286.5 33286.5</text>
<rect x="10" y="30" width="1628" height="2" fill="#ff0000" shape-rendering="crispEdges"/>
<g shape-rendering="crispEdges" fill="#000"><rect x="8" y="30" width="7" height="1"/><rect x="9" y="31" width="5" height="1"/><rect x="10" y="32" width="3" height="1"/><rect x="11" y="33" width="1" height="1"/></g>
<rect x="1646" y="25" width="41" height="11" fill="#ff0000" shape-rendering="crispEdges"/>
<text transform="translate(1650,34) scale(0.93,1)" font-size="9.8" fill="#fff" stroke="#fff">33586.8</text>
<rect x="1646" y="61" width="41" height="11" fill="#ff0000" shape-rendering="crispEdges"/>
<text transform="translate(1650,70) scale(0.93,1)" font-size="9.8" fill="#fff" stroke="#fff">33442.7</text>
<rect x="1646" y="101" width="41" height="11" fill="#000000" shape-rendering="crispEdges"/>
<text transform="translate(1650,110) scale(0.93,1)" font-size="9.8" fill="#fff" stroke="#fff">33286.5</text>
<rect x="1646" y="124" width="41" height="11" fill="#ffa500" shape-rendering="crispEdges"/>
<text transform="translate(1650,133) scale(0.93,1)" font-size="9.8" fill="#fff" stroke="#fff">33189.8</text>
<rect x="1646" y="155" width="41" height="11" fill="#0000ff" shape-rendering="crispEdges"/>
<text transform="translate(1650,164) scale(0.93,1)" font-size="9.8" fill="#fff" stroke="#fff">33065.7</text>
<rect x="1646" y="188" width="41" height="11" fill="#0000ff" shape-rendering="crispEdges"/>
<text transform="translate(1650,197) scale(0.93,1)" font-size="9.8" fill="#fff" stroke="#fff">32931.4</text>
</g>
<g id="toolbar">
<defs>
<pattern id="dith" width="2" height="2" patternUnits="userSpaceOnUse"><rect width="2" height="2" fill="#f0f0f0"/><rect width="1" height="1" fill="#fff"/><rect x="1" y="1" width="1" height="1" fill="#fff"/></pattern>
<linearGradient id="gold" x1="0" y1="0" x2="1" y2="1"><stop offset="0" stop-color="#fae040"/><stop offset="0.55" stop-color="#edba1c"/><stop offset="1" stop-color="#c88c10"/></linearGradient>
<linearGradient id="grn" x1="0" y1="0" x2="0" y2="1"><stop offset="0" stop-color="#7cf57c"/><stop offset="0.5" stop-color="#2fe02f"/><stop offset="1" stop-color="#14b414"/></linearGradient>
<linearGradient id="blu" x1="0" y1="0" x2="0" y2="1"><stop offset="0" stop-color="#5aa8f0"/><stop offset="1" stop-color="#1c5cc0"/></linearGradient>
<radialGradient id="badge" cx="0.4" cy="0.3" r="0.8"><stop offset="0" stop-color="#f05030"/><stop offset="1" stop-color="#c82010"/></radialGradient>
</defs>
<rect x="0" y="0" width="1692" height="18" fill="#f0f0f0"/>
<g shape-rendering="crispEdges">
<!-- selected button backgrounds -->
<rect x="280" y="0" width="24" height="17" fill="url(#dith)"/>
<rect x="432" y="0" width="24" height="17" fill="url(#dith)"/>
<rect x="460" y="0" width="24" height="17" fill="url(#dith)"/>
<rect x="620" y="0" width="24" height="17" fill="url(#dith)"/>
<rect x="1066" y="0" width="24" height="17" fill="url(#dith)"/>
<!-- left edge -->
<rect x="0" y="0" width="2" height="18" fill="#fff"/>
<rect x="5" y="0" width="1" height="17" fill="#a0a0a0"/>
<!-- thin separators -->
<g fill="#a0a0a0">
<rect x="279" y="0" width="1" height="17"/><rect x="336" y="0" width="1" height="17"/><rect x="426" y="0" width="1" height="17"/><rect x="431" y="0" width="1" height="17"/>
<rect x="459" y="0" width="1" height="17"/><rect x="488" y="0" width="1" height="17"/><rect x="619" y="0" width="1" height="17"/>
<rect x="676" y="0" width="1" height="17"/><rect x="1065" y="0" width="1" height="17"/><rect x="1176" y="0" width="1" height="17"/>
</g>
<!-- group separators -->
<rect x="241" y="0" width="1" height="18" fill="#a0a0a0"/><rect x="242" y="0" width="1" height="18" fill="#fff"/>
<rect x="609" y="0" width="1" height="18" fill="#a0a0a0"/><rect x="610" y="0" width="1" height="18" fill="#fff"/>
<rect x="915" y="0" width="1" height="18" fill="#a0a0a0"/><rect x="916" y="0" width="1" height="18" fill="#fff"/>
<!-- grips -->
<g stroke="#a8a8a8" stroke-width="3" stroke-dasharray="1 1">
<line x1="246.5" y1="1" x2="246.5" y2="16"/><line x1="614.5" y1="1" x2="614.5" y2="16"/><line x1="920.5" y1="1" x2="920.5" y2="16"/>
</g>
</g>

<!-- 1: new order -->
<g>
<path d="M15.5,-2 H23.8 L26.5,0.8 V12.4 H15.5 Z" fill="#fdfdfd" stroke="#8e8e8e" stroke-width="1"/>
<path d="M23.8,-2 V0.8 H26.5" fill="none" stroke="#8e8e8e" stroke-width="0.8"/>
<rect x="17.3" y="1.2" width="2.6" height="1.5" fill="#808080"/>
<path d="M17.3,5.5 H23 M17.3,7.5 H21.8 M17.3,9.5 H19.2" stroke="#8a8a8a" stroke-width="1"/>
<path d="M23.5,5.9 h3.2 v3.5 h3.8 v3.2 h-3.8 v3.6 h-3.2 v-3.6 h-3.8 v-3.2 h3.8 z" fill="url(#grn)" stroke="#0a8a0a" stroke-width="0.9"/>
</g>
<text x="33.9" y="10.4" font-size="12.1" fill="#000" letter-spacing="0.35">新订单</text>
<!-- 2: gold book -->
<g>
<path d="M97,6.4 L97.9,8.8 L90.5,15.3 L90.2,14.4 Z" fill="#e9dfa8" stroke="#9a6a14" stroke-width="0.8"/>
<path d="M87.3,-0.6 L97,6.4 L90.2,14.4 L82,8.9 Z" fill="url(#gold)" stroke="#a8700c" stroke-width="1"/>
<path d="M83.6,8.4 L90.6,13" fill="none" stroke="#fbe88c" stroke-width="1.1" opacity="0.9"/>
</g>
<!-- 3: cloud -->
<g>
<path d="M112.2,-1 L115.3,0 V8 L112.2,7 Z" fill="#0e86e6"/>
<rect x="115.3" y="-1" width="7.8" height="9" fill="#1ea0f4"/>
<path d="M117.2,4.2 H121.8" stroke="#e8f6ff" stroke-width="1"/>
<path d="M116,6.4 H122.4" stroke="#8fd0fb" stroke-width="0.8"/>
<linearGradient id="cld" x1="0" y1="0" x2="0" y2="1"><stop offset="0" stop-color="#ffffff"/><stop offset="1" stop-color="#bccbe2"/></linearGradient>
<path d="M112.8,14.4 a2.9,2.9 0 0 1 -0.3,-5.7 a3.2,3.2 0 0 1 4.6,-0.8 a3.3,3.3 0 0 1 5.2,1.1 a2.8,2.8 0 0 1 1.2,5.4 Z" fill="url(#cld)" stroke="#4f6ea8" stroke-width="0.9"/>
</g>
<!-- 4: signal -->
<g fill="none">
<radialGradient id="sigg" gradientUnits="userSpaceOnUse" cx="145.8" cy="6.8" r="7.8"><stop offset="0.15" stop-color="#eef6e6" stop-opacity="0.7"/><stop offset="0.6" stop-color="#a8d8a0" stop-opacity="0.9"/><stop offset="1" stop-color="#4cae5e" stop-opacity="1"/></radialGradient>
<path d="M145.8,6.8 L146.4,14.5 A7.7,7.7 0 0 0 147.8,-0.6 Z" fill="url(#sigg)" stroke="none"/>
<circle cx="145.8" cy="6.8" r="7.5" stroke="#a4bcec" stroke-width="1.1"/>
<circle cx="145.8" cy="6.8" r="4.9" stroke="#6a8ce0" stroke-width="1.2"/>
<path d="M151.2,1.4 A7.6,7.6 0 0 1 148.6,13.9" stroke="#3a7868" stroke-width="1" opacity="0.7"/>
<circle cx="145.8" cy="6.8" r="2.1" fill="#2c54d2" stroke="none"/>
<path d="M146.3,7 V14.6" stroke="#18a418" stroke-width="1.5"/>
</g>
<!-- 5: expert hat -->
<g>
<path d="M165.3,6.4 L180.8,5.7 L177,10.6 L173.2,14.7 Z" fill="#f8e264" stroke="#d4a424" stroke-width="0.9"/>
<ellipse cx="172.9" cy="3.7" rx="7.9" ry="2.4" fill="#5cb4e4" stroke="#2c8cbc" stroke-width="0.8"/>
<path d="M169.4,3 Q170.6,-1.5 171,-2 L174.4,-2 Q175,-1.5 176,3 Q172.6,4.2 169.4,3 Z" fill="#6cc0ea" stroke="#2c8cbc" stroke-width="0.6"/>
<circle cx="177.4" cy="10.6" r="4.05" fill="#e42404" stroke="#b41c04" stroke-width="0.6"/>
<rect x="175.8" y="9.1" width="3.2" height="3" fill="#fff"/>
</g>
<text x="186.6" y="10.4" font-size="12.1" fill="#000" letter-spacing="0.3">自动交易</text>

<!-- chart type icons -->
<g transform="translate(259.5,0)"><path d="M0,15 V1.4 M-2.6,12.6 H10.8" stroke="#505050" stroke-width="1.2" fill="none"/><path d="M-1.5,3 L0,0.5 L1.5,3 Z M10,11.1 L12,12.6 L10,14.1 Z" fill="#505050"/></g>
<g transform="translate(287.3,0)"><path d="M0,15 V1.4 M-2.6,12.6 H10.8" stroke="#505050" stroke-width="1.2" fill="none"/><path d="M-1.5,3 L0,0.5 L1.5,3 Z M10,11.1 L12,12.6 L10,14.1 Z" fill="#505050"/></g>
<g transform="translate(315.5,0)"><path d="M0,15 V1.4 M-2.6,12.6 H10.8" stroke="#505050" stroke-width="1.2" fill="none"/><path d="M-1.5,3 L0,0.5 L1.5,3 Z M10,11.1 L12,12.6 L10,14.1 Z" fill="#505050"/></g>
<g transform="translate(439.5,0)"><path d="M0,15 V1.4 M-2.6,12.6 H10.8" stroke="#505050" stroke-width="1.2" fill="none"/><path d="M-1.5,3 L0,0.5 L1.5,3 Z M10,11.1 L12,12.6 L10,14.1 Z" fill="#505050"/></g>
<g transform="translate(467.3,0)"><path d="M0,15 V1.4 M-2.6,12.6 H10.8" stroke="#505050" stroke-width="1.2" fill="none"/><path d="M-1.5,3 L0,0.5 L1.5,3 Z M10,11.1 L12,12.6 L10,14.1 Z" fill="#505050"/></g>
<path d="M265.5,2.1 V10.9 M265.5,3.6 H268 M263,9.5 H265.5" stroke="#0c8a0c" stroke-width="1.2" fill="none"/>
<path d="M293.5,0 V10.9" stroke="#0c8a0c" stroke-width="1"/>
<rect x="291.5" y="1.8" width="4" height="6.8" fill="#4ae84a" stroke="#0c8a0c" stroke-width="0.9"/>
<path d="M314.1,9.8 Q317.6,4.4 320.2,4.5 Q322.4,4.8 325.8,8.2" stroke="#2a9a2a" stroke-width="1.3" fill="none"/>
<path d="M444.4,3.4 L447.8,6.6 L444.4,9.8 Z" fill="#8cf08c" stroke="#0c8a0c" stroke-width="1"/>
<path d="M473.5,1.2 V10.8" stroke="#1a6a9c" stroke-width="1.1"/>
<path d="M478.8,6.6 H475.4 M477,4.6 L475,6.6 L477,8.6" stroke="#d44a08" stroke-width="1.2" fill="none"/>

<!-- zoom in / out -->
<g>
<linearGradient id="lens" x1="0" y1="0" x2="0" y2="1"><stop offset="0" stop-color="#e4f6fe"/><stop offset="1" stop-color="#bfe6fa"/></linearGradient>
<path d="M354.6,8.9 L360.4,14.2" stroke="#b07a0c" stroke-width="3.4" stroke-linecap="butt"/>
<path d="M354.6,8.9 L360.2,14" stroke="#f2d428" stroke-width="2" stroke-linecap="butt"/>
<circle cx="351.2" cy="4.7" r="5.6" fill="url(#lens)" stroke="#2c6cba" stroke-width="1.2"/>
<path d="M347.6,4.8 H354.8 M351.2,1.4 V8.2" stroke="#3c8ab8" stroke-width="1.7"/>
<path d="M382.6,8.9 L388.6,14.2" stroke="#b07a0c" stroke-width="3.4" stroke-linecap="butt"/>
<path d="M382.6,8.9 L388.4,14" stroke="#f2d428" stroke-width="2" stroke-linecap="butt"/>
<circle cx="379.2" cy="4.7" r="5.6" fill="url(#lens)" stroke="#2c6cba" stroke-width="1.2"/>
<path d="M376,4.8 H382.5" stroke="#3c8ab8" stroke-width="1.7"/>
</g>
<!-- tile windows -->
<g>
<rect x="401.1" y="-1" width="7.7" height="7.95" fill="#2e9c12"/><rect x="409.3" y="-1" width="7.7" height="7.95" fill="#1c4ccc"/>
<rect x="401.1" y="7.4" width="7.7" height="7.2" fill="#1c4ccc"/><rect x="409.3" y="7.4" width="7.7" height="7.2" fill="#2e9c12"/>
<path d="M402.3,2 h5.5 v4.2 h-1.3 v-1.2 h-2.9 v1.2 h-1.3 z" fill="#f4faf0"/><path d="M410.5,2 h5.5 v4.2 h-1.3 v-1.2 h-2.9 v1.2 h-1.3 z" fill="#eef2fd"/>
<path d="M402.3,10 h5.5 v4 h-1.3 v-1.2 h-2.9 v1.2 h-1.3 z" fill="#eef2fd"/><path d="M410.5,10 h5.5 v4 h-1.3 v-1.2 h-2.9 v1.2 h-1.3 z" fill="#f4faf0"/>
<path d="M403.3,3.4 h3.5" stroke="#a6dc90" stroke-width="0.9"/><path d="M411.5,3.4 h1.2 m1,0 h1.3" stroke="#9cb4f0" stroke-width="0.9"/>
<path d="M403.3,11.4 h1.2 m1,0 h1.3" stroke="#9cb4f0" stroke-width="0.9"/><path d="M411.5,11.4 h3.5" stroke="#a6dc90" stroke-width="0.9"/>
<rect x="402" y="8.3" width="0.8" height="0.8" fill="#cfdcff"/><rect x="410.2" y="8.3" width="0.8" height="0.8" fill="#d4f0c8"/>
</g>
<!-- new chart -->
<g>
<path d="M498.5,-2 H506.6 L509.6,1 V12.4 H498.5 Z" fill="#fdfdfd" stroke="#8e8e8e" stroke-width="1"/>
<path d="M506.6,-2 V1 H509.6" fill="none" stroke="#8e8e8e" stroke-width="0.8"/>
<path d="M501.5,2.5 V9 M501.5,3 H503 M501.5,6 H503 M501.5,9 H503" stroke="#6a6458" stroke-width="0.9" fill="none"/>
<path d="M506.4,5.6 h3.2 v3.8 h3.8 v3.2 h-3.8 v3.8 h-3.2 v-3.8 h-3.8 v-3.2 h3.8 z" fill="url(#grn)" stroke="#0a8a0a" stroke-width="0.9"/>
</g>
<!-- dropdown arrows -->
<g fill="#000" shape-rendering="crispEdges">
<rect x="520" y="6" width="5" height="1"/><rect x="521" y="7" width="3" height="1"/><rect x="522" y="8" width="1" height="1"/><rect x="559" y="6" width="5" height="1"/><rect x="560" y="7" width="3" height="1"/><rect x="561" y="8" width="1" height="1"/><rect x="598" y="6" width="5" height="1"/><rect x="599" y="7" width="3" height="1"/><rect x="600" y="8" width="1" height="1"/><rect x="904" y="6" width="5" height="1"/><rect x="905" y="7" width="3" height="1"/><rect x="906" y="8" width="1" height="1"/>
</g>
<!-- clock -->
<g>
<linearGradient id="clk" x1="0" y1="0" x2="0.6" y2="1"><stop offset="0" stop-color="#3c9cf4"/><stop offset="1" stop-color="#0a4cb0"/></linearGradient>
<rect x="541.4" y="-1.6" width="5.4" height="2" rx="0.8" fill="#2c7cd8"/>
<circle cx="544.1" cy="6.7" r="7" fill="#eef2f6" stroke="url(#clk)" stroke-width="2.3"/>
<path d="M543.2,3.4 L544.1,6.8 L547,6.8" stroke="#202020" stroke-width="1.2" fill="none"/>
<path d="M544.1,1.6 v0.8 M544.1,11 v0.8 M539,6.7 h0.8 M548.4,6.7 h0.8" stroke="#9aa4b0" stroke-width="0.8"/>
</g>
<!-- template -->
<g>
<rect x="575" y="-1" width="15.5" height="14.4" fill="#fff" stroke="#3a6ad0" stroke-width="1.2"/>
<rect x="575" y="-1" width="15.5" height="2.6" fill="#4a80e0"/>
<path d="M577,6 L580,5 L582.5,5.6 L585,4.4 L588.5,4" stroke="#b03020" stroke-width="1.2" fill="none"/>
<path d="M575,7.6 H590.5" stroke="#3a6ad0" stroke-width="0.8"/>
<path d="M577,11.4 L580,10 L582,11.2 L585,9.4 L588.5,11" stroke="#18a018" stroke-width="1.2" fill="none"/>
</g>

<!-- drawing tools -->
<path d="M627.2,-2 V11 L630,8.4 L632.3,14.2 L634.3,13.3 L632,7.6 L635.8,7.6 Z" fill="#4c4c4c"/>
<g stroke="#484848" stroke-width="1" fill="none" shape-rendering="crispEdges">
<path d="M652,7.5 H658 M661,7.5 H667 M659.5,0 V6 M659.5,9 V15"/>
<path d="M693.5,1 V14"/>
<path d="M716,7.5 H728"/>
</g>
<path d="M743.6,14 L756,1.8" stroke="#484848" stroke-width="1.1"/>
<g stroke="#484848" stroke-width="1" fill="none">
<path d="M770.5,9 L781,0.5 M773,13.4 L784,4.6 M772.6,7.4 L774.6,12 M775.4,5 L777.6,9.8 M778.2,2.8 L780.4,7.4 M781,0.6 L783,5.2"/>
</g>
<text x="780.8" y="15.6" font-size="7" font-weight="bold" fill="#404040">E</text>
<g stroke="#484848" stroke-width="1" stroke-dasharray="1 1" shape-rendering="crispEdges">
<path d="M799,0.5 H812 M799,3.5 H812 M799,7.5 H812 M799,11.5 H808"/>
</g>
<text x="808.8" y="15.6" font-size="7" font-weight="bold" fill="#404040">F</text>
<text x="829" y="11.8" font-size="12.5" font-weight="bold" fill="#5a5a5a">A</text>
<rect x="856.5" y="0.5" width="11" height="13" fill="none" stroke="#484848" stroke-width="1" stroke-dasharray="1 1" shape-rendering="crispEdges"/>
<text x="858.4" y="11.8" font-size="11.5" font-weight="bold" fill="#5a5a5a">T</text>
<g fill="#484848">
<path d="M886.4,1 L889.6,4.4 L886.4,5.6 L883.2,4.4 Z"/>
<path d="M893.4,13.8 L890.2,10.4 L893.4,9.2 L896.6,10.4 Z"/>
<path d="M885,7.6 L887.4,9.8 L892.6,4.6" fill="none" stroke="#484848" stroke-width="1.3"/>
</g>

<!-- timeframes -->
<g font-size="9.8" fill="#303030">
<text transform="translate(930.5,11) scale(0.93,1)">M1</text><text transform="translate(958.3,11) scale(0.93,1)">M5</text><text transform="translate(984.6,11) scale(0.93,1)">M15</text><text transform="translate(1012.6,11) scale(0.93,1)">M30</text>
<text transform="translate(1043.6,11) scale(0.93,1)">H1</text><text transform="translate(1070.5,11) scale(0.93,1)">H4</text><text transform="translate(1099.6,11) scale(0.93,1)">D1</text><text transform="translate(1127.3,11) scale(0.93,1)">W1</text><text transform="translate(1154.0,11) scale(0.93,1)">MN</text>
</g>

<!-- search + chat -->
<path d="M1644,7.4 L1638.8,12.2" stroke="#2a5ccc" stroke-width="2.2" stroke-linecap="round"/>
<circle cx="1646.7" cy="4.4" r="4" fill="#f4f6fb" stroke="#3a68d4" stroke-width="1.3"/>
<path d="M1663.4,9 a5.4,4.6 0 0 1 10.8,0 a5.4,4.6 0 0 1 -6.4,4.4 l-1.6,2.4 l-0.4,-3 a5,4.4 0 0 1 -2.4,-3.8 Z" fill="#e6e6f0" stroke="#a8a8b6" stroke-width="0.9"/>
<circle cx="1677.5" cy="4.5" r="8.2" fill="url(#badge)"/>
<text x="1677.7" y="9.6" font-size="13.5" font-weight="bold" fill="#fff" text-anchor="middle" font-family="'Liberation Serif', serif">1</text>
</g>

</svg>
</body>
</html>
